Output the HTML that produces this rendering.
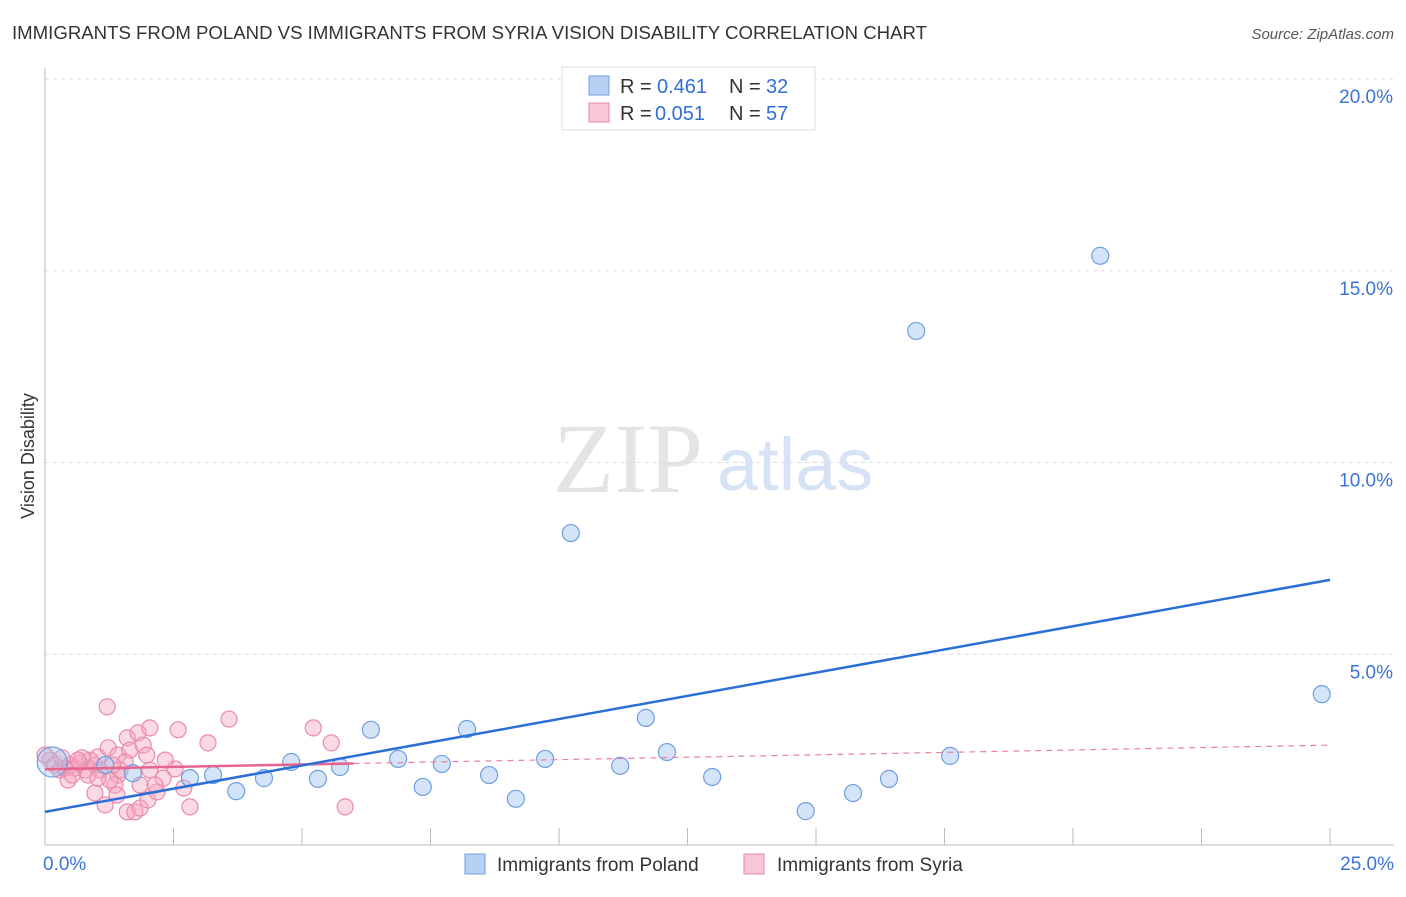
<!DOCTYPE html>
<html><head><meta charset="utf-8"><style>
body{margin:0;background:#fff;font-family:"Liberation Sans",sans-serif;}
svg text{font-family:"Liberation Sans",sans-serif;}
</style></head><body>
<svg width="1406" height="892" viewBox="0 0 1406 892">
<text x="12" y="39" font-size="18.6" fill="#333" textLength="915" lengthAdjust="spacingAndGlyphs">IMMIGRANTS FROM POLAND VS IMMIGRANTS FROM SYRIA VISION DISABILITY CORRELATION CHART</text>
<text x="1394" y="39" font-size="15" fill="#555" font-style="italic" text-anchor="end">Source: ZipAtlas.com</text>
<text transform="translate(34,456) rotate(-90)" font-size="18" fill="#333" text-anchor="middle">Vision Disability</text>
<g>
<text x="553" y="492" font-size="100" fill="#e4e4e4" style="font-family:'Liberation Serif',serif">ZIP</text>
<text x="717" y="490" font-size="74" fill="#d6e3f5">atlas</text>
</g>
<g id="grid"></g>
<g id="axes"></g>
<g id="marks"></g>
<g>
<rect x="562" y="67" width="253" height="63" fill="#fff" stroke="#ddd"/>
<rect x="589" y="76" width="20" height="19" fill="#b8d0f3" stroke="#6f9ee0"/>
<text y="93" font-size="20" fill="#333"><tspan x="620">R =</tspan><tspan x="657" fill="#2f6fd6">0.461</tspan><tspan x="729">N =</tspan><tspan x="766" fill="#2f6fd6">32</tspan></text>
<rect x="589" y="103" width="20" height="19" fill="#f8c7d6" stroke="#e887a6"/>
<text y="120" font-size="20" fill="#333"><tspan x="620">R =</tspan><tspan x="655" fill="#2f6fd6">0.051</tspan><tspan x="729">N =</tspan><tspan x="766" fill="#2f6fd6">57</tspan></text>
</g>
<g>
<rect x="465" y="854" width="20" height="20" fill="#b8d0f3" stroke="#6f9ee0"/>
<text x="497" y="871" font-size="19" fill="#333">Immigrants from Poland</text>
<rect x="744" y="854" width="20" height="20" fill="#f8c7d6" stroke="#e887a6"/>
<text x="777" y="871" font-size="19" fill="#333">Immigrants from Syria</text>
</g>
</svg>
<script>
const yTicks=[5,10,15,20];
const yTickLabels=["5.0%","10.0%","15.0%","20.0%"];
const xEndLabels=["0.0%","25.0%"];
const polandX=[0.14,1.17,1.71,2.82,3.27,3.72,4.26,4.79,5.31,5.74,6.34,6.87,7.35,7.72,8.21,8.64,9.16,9.73,10.23,11.19,11.69,12.10,12.98,14.80,15.72,16.42,16.95,17.61,20.53,24.84];
const polandY=[2.19,2.11,1.90,1.77,1.85,1.43,1.77,2.19,1.75,2.06,3.03,2.27,1.54,2.14,3.05,1.85,1.23,2.27,8.16,2.09,3.34,2.45,1.80,0.91,1.38,1.75,13.43,2.35,15.39,3.96];
const syriaX=[1.21,0.00,0.10,0.19,0.29,0.39,0.49,0.58,0.68,0.78,0.88,0.97,1.07,0.45,0.53,1.03,1.23,1.42,1.60,1.65,1.56,1.81,1.91,2.04,1.98,1.42,1.36,1.26,0.97,1.17,1.40,1.60,1.75,1.85,2.00,2.18,2.30,2.53,2.70,2.82,3.17,3.58,5.22,5.57,5.84,2.59,1.85,1.46,0.84,0.72,0.33,0.64,1.03,1.32,2.14,2.34,2.04];
const syriaY=[3.63,2.37,2.24,2.11,1.98,2.03,2.11,2.03,2.16,1.98,2.24,2.11,1.98,1.72,1.85,2.32,2.56,2.37,2.82,2.50,2.19,2.95,2.63,3.08,2.37,1.85,1.59,1.72,1.38,1.07,1.33,0.89,0.89,0.99,1.20,1.41,1.77,2.01,1.51,1.02,2.69,3.31,3.08,2.69,1.02,3.03,1.59,1.98,1.85,2.30,2.30,2.24,1.77,2.11,1.59,2.24,1.98];
const polandTrend=[0.89,6.94];
const syriaTrend=[2.0,2.63];
const syriaSolidEnd=6.0;

const NS="http://www.w3.org/2000/svg";
const X0=45,X1=1330,Y0=846,Y20=79;
const sx=v=>X0+(X1-X0)*v/25;
const sy=v=>Y0-(Y0-Y20)*v/20;
function mk(tag,attrs,parent){const e=document.createElementNS(NS,tag);for(const k in attrs)e.setAttribute(k,attrs[k]);parent.appendChild(e);return e;}
const grid=document.getElementById('grid'),axes=document.getElementById('axes'),marks=document.getElementById('marks');
yTicks.forEach((t,i)=>{
 const l=mk('line',{x1:X0,x2:1394,y1:sy(t),y2:sy(t),stroke:'#ddd','stroke-dasharray':'4,4'},grid);
 
 
 const tx=mk('text',{x:1393,y:sy(t)+24,'font-size':19,fill:'#3a74d6','text-anchor':'end'},axes);
 tx.textContent=yTickLabels[i];
 
 
});
const la=mk('line',{x1:X0,x2:X0,y1:68,y2:845,stroke:'#bbb'},axes);


const ba=mk('line',{x1:X0,x2:1394,y1:845,y2:845,stroke:'#bbb'},axes);


for(let i=1;i<=10;i++){
 const t=mk('line',{x1:sx(i*2.5),x2:sx(i*2.5),y1:828,y2:845,stroke:'#bbb'},axes);
 
 
}
[[0,'start',X0-2],[25,'end',1394]].forEach((a,i)=>{
 const tx=mk('text',{x:a[2],y:870,'font-size':19,fill:'#3a74d6','text-anchor':a[1]},axes);
 tx.textContent=xEndLabels[i];
 
 
});
syriaX.forEach((x,i)=>{
 const c=mk('circle',{cx:sx(x),cy:sy(syriaY[i]),r:8,fill:'rgba(245,165,190,0.42)',stroke:'#e98aa9','stroke-width':1.2},marks);
 
 
});
const bigc=mk('circle',{cx:sx(polandX[0]),cy:sy(polandY[0]),r:15,fill:'rgba(160,195,240,0.4)',stroke:'#6f9ee0','stroke-width':1.2},marks);


polandX.forEach((x,i)=>{
 if(i===0)return;
 const c=mk('circle',{cx:sx(x),cy:sy(polandY[i]),r:8.5,fill:'rgba(160,195,240,0.45)',stroke:'#6f9ee0','stroke-width':1.2},marks);
 
 
});
const st=syriaTrend[0]+(syriaTrend[1]-syriaTrend[0])*syriaSolidEnd/25;
const sd=mk('line',{x1:sx(syriaSolidEnd),y1:sy(st),x2:sx(25),y2:sy(syriaTrend[1]),stroke:'#e9819f','stroke-width':1.2,'stroke-dasharray':'6,5'},marks);


const ss=mk('line',{x1:sx(0),y1:sy(syriaTrend[0]),x2:sx(syriaSolidEnd),y2:sy(st),stroke:'#e8638d','stroke-width':2.5},marks);


const pt=mk('line',{x1:sx(0),y1:sy(polandTrend[0]),x2:sx(25),y2:sy(polandTrend[1]),stroke:'#2a6fd6','stroke-width':2.5},marks);


</script>
</body></html>
